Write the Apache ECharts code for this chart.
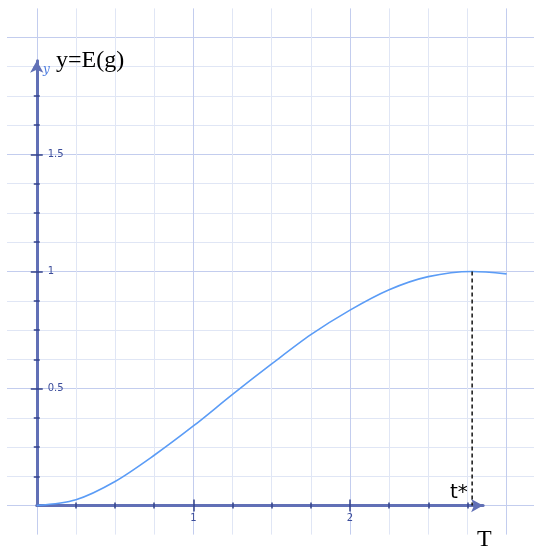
<!DOCTYPE html>
<html><head><meta charset="utf-8">
<script src="https://cdn.jsdelivr.net/npm/echarts@6/dist/echarts.min.js"></script>
<style>html,body{margin:0;padding:0;background:#fff}#c{width:534px;height:549px}</style>
</head><body><div id="c"></div>
<script>
// ---- data ----
const tValues = [0, 0.25, 0.5, 0.75, 1, 1.25, 1.5, 1.75, 2, 2.25, 2.5, 2.78, 3.0];
const eValues = [0, 0.025, 0.103, 0.215, 0.34, 0.475, 0.605, 0.73, 0.835, 0.922, 0.978, 1.0, 0.99];
const tStar = 2.78;
const tStarValue = 1;
const xTickLabels = [1, 2];
const yTickLabels = [0.5, 1, 1.5];
const xRange = [-0.19, 3.175];
const yRange = [-0.124, 2.124];
const axisXMax = 2.85;
const axisYMax = 1.9;

// ---- layout ----
const G1 = {left: 7, top: 8.4, width: 527, height: 526.2};
const sx = G1.width / (xRange[1] - xRange[0]);
const sy = G1.height / (yRange[1] - yRange[0]);
const x0 = G1.left - xRange[0] * sx;
const y0 = G1.top + yRange[1] * sy;
const G2 = {left: x0, top: y0 - axisYMax * sy, width: axisXMax * sx, height: axisYMax * sy};

const AXIS_COLOR = '#6170b6';
const TICK_COLOR = '#33428a';
const LABEL_COLOR = '#3b4c9a';
const MAJOR_GRID = '#c3cdee';
const MINOR_GRID = '#e0e6f5';

const chart = echarts.init(document.getElementById('c'), null, {renderer: 'canvas'});

function gridAxis(range, step) {
  return {
    type: 'value', gridIndex: 0, min: range[0], max: range[1],
    minInterval: step, maxInterval: step,
    axisLine: {show: false}, axisTick: {show: false}, axisLabel: {show: false},
    splitLine: {show: true, showMinLine: false, showMaxLine: false, lineStyle: {color: MAJOR_GRID, width: 1}},
    minorTick: {show: false, splitNumber: 4},
    minorSplitLine: {show: true, lineStyle: {color: MINOR_GRID, width: 1}}
  };
}
function tickAxis(gridIndex, max, step, labels, isMain, isY) {
  return {
    type: 'value', gridIndex: gridIndex, min: 0, max: max, interval: step,
    axisLine: {show: isMain, onZero: false, symbol: ['none', 'arrow'], symbolSize: [10, 12],
      lineStyle: {color: AXIS_COLOR, width: 3}},
    axisTick: {show: true, inside: !isMain, customValues: labels, length: 6,
      lineStyle: {color: TICK_COLOR, width: 1.5}},
    minorTick: {show: true, splitNumber: 4, length: 3, lineStyle: {color: TICK_COLOR, width: 1.5}},
    axisLabel: {show: isMain, customValues: labels, inside: isY, margin: isY ? 11 : 8,
      color: LABEL_COLOR, fontSize: 10, fontFamily: 'DejaVu Sans'},
    splitLine: {show: false}
  };
}

chart.setOption({
  animation: false,
  backgroundColor: '#ffffff',
  grid: [
    {left: G1.left, top: G1.top, width: G1.width, height: G1.height, containLabel: false},
    {left: G2.left, top: G2.top, width: G2.width, height: G2.height, containLabel: false},
    {left: G2.left, top: G2.top, width: G2.width, height: G2.height, containLabel: false}
  ],
  xAxis: [
    gridAxis(xRange, 1),
    tickAxis(1, axisXMax, 1, xTickLabels, true, false),
    tickAxis(2, axisXMax, 1, xTickLabels, false, false)
  ],
  yAxis: [
    gridAxis(yRange, 0.5),
    tickAxis(1, axisYMax, 0.5, yTickLabels, true, true),
    tickAxis(2, axisYMax, 0.5, yTickLabels, false, true)
  ],
  series: [
    {
      type: 'line', xAxisIndex: 0, yAxisIndex: 0, z: 3,
      data: tValues.map((t, i) => [t, eValues[i]]),
      smooth: 0.3, showSymbol: false, symbol: 'none',
      lineStyle: {color: '#5b9cf6', width: 1.6}
    },
    {
      type: 'line', xAxisIndex: 0, yAxisIndex: 0, z: 4,
      data: [[tStar, tStarValue], [tStar, 0]],
      showSymbol: false, symbol: 'none',
      lineStyle: {color: '#111111', width: 1.5, type: [4, 3]}
    }
  ],
  graphic: [
    {type: 'text', left: 56, top: 49, z: 10,
      style: {text: 'y=E(g)', font: '24px "Liberation Serif"', fill: '#000000'}},
    {type: 'text', left: 43, top: 64, z: 10,
      style: {text: 'y', font: 'italic 12px "DejaVu Serif"', fill: '#4a7be0'}},
    {type: 'text', left: 450, top: 483, z: 10,
      style: {text: 't*', font: '20px "DejaVu Sans"', fill: '#000000'}},
    {type: 'text', left: 477, top: 528, z: 10,
      style: {text: 'T', font: '24px "Liberation Serif"', fill: '#000000'}}
  ]
});
</script>
</body></html>
